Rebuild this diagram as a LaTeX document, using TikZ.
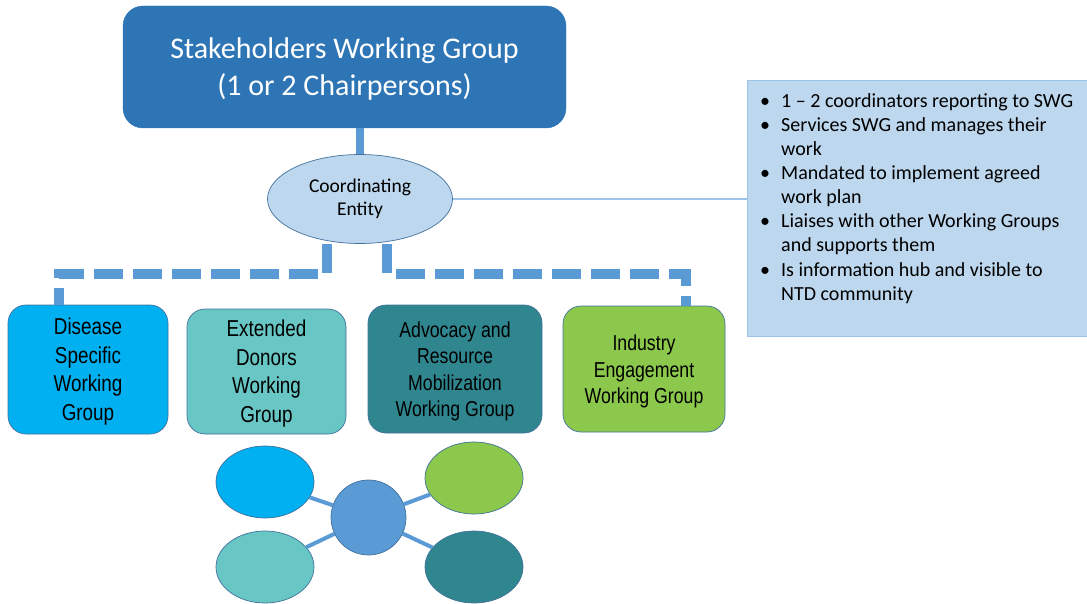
\documentclass[tikz,border=0pt]{standalone}
\usepackage{fontspec}
\setmainfont{Carlito}
\newfontfamily\narrowfont[FakeStretch=0.82]{Liberation Sans}
\usetikzlibrary{shapes.geometric,calc}
\definecolor{topblue}{HTML}{2E75B6}
\definecolor{linkblue}{HTML}{5B9BD5}
\definecolor{paleblue}{HTML}{BDD7EE}
\definecolor{edgeblue}{HTML}{41719C}
\definecolor{thinblue}{HTML}{9DC3E6}
\definecolor{cyanbox}{HTML}{00B0F0}
\definecolor{tealbox}{HTML}{68C7C5}
\definecolor{darkteal}{HTML}{30868E}
\definecolor{greenbox}{HTML}{8BC84C}
\tikzset{
  wgbox/.style={rectangle, rounded corners=18pt, draw=edgeblue, line width=0.7pt, inner sep=0pt, text=black},
  wgtext/.style={align=center, inner sep=0pt, text=black},
  bigtext/.style={font=\narrowfont\fontsize{23}{28.6}\selectfont},
  smalltext/.style={font=\narrowfont\fontsize{21.6}{26.5}\selectfont},
  blob/.style={ellipse, draw=edgeblue, line width=0.7pt, inner sep=0pt, minimum width=98pt, minimum height=72pt},
  dashlink/.style={draw=linkblue, line width=9.5pt, dash pattern=on 29pt off 10pt},
  hublink/.style={draw=linkblue, line width=4pt},
}
\begin{document}
\begin{tikzpicture}[x=1pt,y=-1pt]
\useasboundingbox (0,0) rectangle (1087,604);
\clip (0,0) rectangle (1087,604);

% top box
\node[rectangle, rounded corners=20pt, fill=topblue, draw=topblue, minimum width=443pt, minimum height=122pt, inner sep=0pt] (swg) at (344.5,67) {};
\node[text=white, align=center, inner sep=0pt, font=\fontsize{30}{37}\selectfont] (swgtext) at (344.5,69.5)
  {Stakeholders Working Group\\(1 or 2 Chairpersons)};

% coordinating entity
\node[ellipse, fill=paleblue, draw=edgeblue, line width=0.7pt, minimum width=185pt, minimum height=89pt, inner sep=0pt,
      align=center, font=\fontsize{19.5}{23.5}\selectfont] (ce) at (360,199) {Coordinating\\Entity};

\draw[draw=linkblue, line width=8pt] (swg.south -| ce.north) -- (ce.north);

% info box
\node[rectangle, fill=paleblue, draw=thinblue, line width=1pt, minimum width=348pt, minimum height=255pt, inner sep=0pt] (info) at (921,208.5) {};
\node[anchor=north west, inner sep=0pt, align=left, font=\fontsize{20}{24.15}\selectfont] (infotext) at (760,93)
  {\makebox[21pt][l]{\textbullet}1 – 2 coordinators reporting to SWG\\
   \makebox[21pt][l]{\textbullet}Services SWG and manages their\\
   \hspace*{21pt}work\\
   \makebox[21pt][l]{\textbullet}Mandated to implement agreed\\
   \hspace*{21pt}work plan\\
   \makebox[21pt][l]{\textbullet}Liaises with other Working Groups\\
   \hspace*{21pt}and supports them\\
   \makebox[21pt][l]{\textbullet}Is information hub and visible to\\
   \hspace*{21pt}NTD community};

\draw[draw=thinblue, line width=2.5pt] (ce.east) -- (ce.east -| info.west);

% working group boxes
\node[wgbox, fill=cyanbox, minimum width=160pt, minimum height=129pt] (b1) at (88,369.5) {};
\node[wgtext, bigtext] (b1text) at (88,371.5) {Disease\\Specific\\Working\\Group};
\node[wgbox, fill=tealbox, minimum width=159pt, minimum height=125pt] (b2) at (266.5,371.5) {};
\node[wgtext, bigtext] (b2text) at (266.5,373.5) {Extended\\Donors\\Working\\Group};
\node[wgbox, fill=darkteal, minimum width=174pt, minimum height=128pt] (b3) at (455,369) {};
\node[wgtext, smalltext] (b3text) at (455,371.5) {Advocacy and\\Resource\\Mobilization\\Working Group};
\node[wgbox, fill=greenbox, minimum width=162pt, minimum height=126pt] (b4) at (644,369) {};
\node[wgtext, smalltext] (b4text) at (644,371.5) {Industry\\Engagement\\Working Group};

% dashed connectors
\draw[dashlink] ([xshift=-33pt]ce.south) -- ++(0,30) -| ([xshift=-29pt]b1.north);
\draw[dashlink] ([xshift=27pt]ce.south) -- ++(0,30) -| ([xshift=42pt]b4.north);

% bottom network
\node[blob, fill=cyanbox] (ntl) at (265,482) {};
\node[blob, fill=greenbox] (ntr) at (474,478) {};
\node[blob, fill=tealbox] (nbl) at (265,567) {};
\node[blob, fill=darkteal] (nbr) at (474,567) {};
\node[ellipse, draw=edgeblue, line width=0.7pt, fill=linkblue, inner sep=0pt, minimum width=75pt, minimum height=75pt] (hub) at (368.5,517.5) {};
\draw[hublink] (hub) -- (ntl);
\draw[hublink] (hub) -- (ntr);
\draw[hublink] (hub) -- (nbl);
\draw[hublink] (hub) -- (nbr);
\end{tikzpicture}
\end{document}
